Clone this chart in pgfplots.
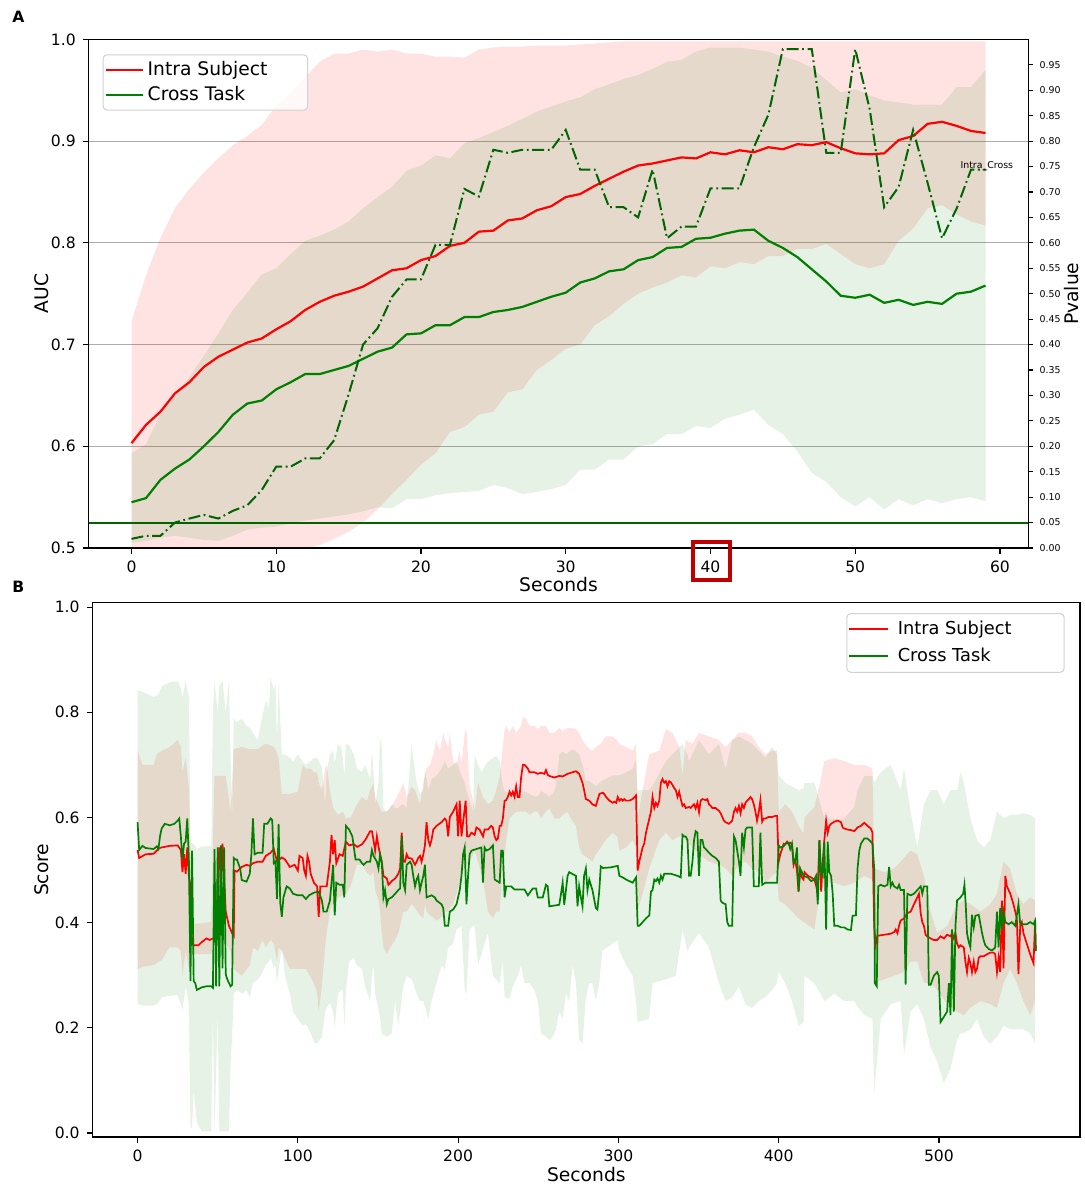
\documentclass[border=0pt]{standalone}
\usepackage{fontspec}
\setmainfont{DejaVu Sans}
\usepackage{pgfplots}
\usepackage{pgfplotstable}
\pgfplotsset{compat=1.18}
\usepgfplotslibrary{fillbetween}
\definecolor{mplred}{RGB}{255,0,0}
\definecolor{mplgreen}{RGB}{0,128,0}
\definecolor{dkgreen}{RGB}{0,100,0}
\definecolor{boxred}{RGB}{192,0,0}

\pgfplotstableread{
x rm rlo rhi gm glo ghi p
0 0.603 0.483 0.723 0.545 0.505 0.593 0.018
1 0.621 0.475 0.768 0.549 0.507 0.602 0.024
2 0.634 0.465 0.805 0.567 0.510 0.632 0.024
3 0.652 0.468 0.834 0.578 0.512 0.651 0.050
4 0.663 0.473 0.853 0.587 0.510 0.668 0.058
5 0.678 0.487 0.869 0.600 0.508 0.689 0.065
6 0.688 0.493 0.883 0.614 0.507 0.711 0.058
7 0.695 0.494 0.896 0.631 0.512 0.734 0.073
8 0.702 0.497 0.905 0.642 0.518 0.751 0.084
9 0.706 0.494 0.916 0.645 0.520 0.769 0.114
10 0.715 0.495 0.935 0.656 0.521 0.775 0.160
11 0.723 0.498 0.948 0.663 0.524 0.789 0.160
12 0.734 0.499 0.963 0.671 0.527 0.802 0.176
13 0.742 0.503 0.978 0.671 0.529 0.807 0.176
14 0.748 0.509 0.986 0.675 0.531 0.813 0.212
15 0.752 0.516 0.986 0.679 0.533 0.821 0.302
16 0.757 0.525 0.990 0.686 0.536 0.834 0.400
17 0.765 0.538 0.988 0.693 0.540 0.845 0.432
18 0.773 0.553 0.990 0.697 0.539 0.855 0.494
19 0.775 0.567 0.986 0.710 0.548 0.871 0.528
20 0.783 0.582 0.986 0.711 0.548 0.876 0.528
21 0.787 0.593 0.983 0.719 0.552 0.886 0.596
22 0.797 0.614 0.983 0.719 0.554 0.883 0.596
23 0.800 0.619 0.982 0.727 0.555 0.898 0.706
24 0.811 0.631 0.990 0.727 0.556 0.903 0.691
25 0.812 0.634 0.992 0.732 0.562 0.909 0.783
26 0.822 0.653 0.993 0.734 0.559 0.915 0.777
27 0.824 0.656 0.993 0.737 0.553 0.922 0.783
28 0.832 0.675 0.994 0.742 0.555 0.929 0.783
29 0.836 0.685 0.994 0.747 0.558 0.934 0.783
30 0.845 0.696 0.994 0.751 0.562 0.939 0.822
31 0.848 0.700 0.995 0.761 0.577 0.943 0.744
32 0.856 0.719 0.996 0.765 0.577 0.951 0.744
33 0.863 0.728 0.997 0.772 0.587 0.956 0.670
34 0.870 0.740 0.998 0.774 0.587 0.961 0.670
35 0.876 0.750 0.998 0.783 0.600 0.965 0.650
36 0.878 0.756 0.998 0.786 0.602 0.971 0.744
37 0.881 0.761 0.998 0.795 0.612 0.978 0.609
38 0.884 0.768 0.998 0.796 0.612 0.980 0.632
39 0.883 0.766 0.998 0.804 0.620 0.988 0.632
40 0.889 0.777 0.998 0.805 0.618 0.992 0.707
41 0.887 0.775 0.998 0.809 0.627 0.992 0.707
42 0.891 0.781 0.998 0.812 0.631 0.992 0.707
43 0.889 0.779 0.998 0.813 0.636 0.990 0.788
44 0.894 0.787 0.998 0.802 0.621 0.988 0.852
45 0.892 0.787 0.998 0.795 0.612 0.983 0.981
46 0.897 0.794 0.998 0.786 0.595 0.979 0.981
47 0.896 0.794 0.998 0.774 0.574 0.972 0.981
48 0.899 0.799 0.998 0.762 0.565 0.960 0.777
49 0.893 0.789 0.998 0.748 0.550 0.948 0.777
50 0.888 0.779 0.998 0.746 0.541 0.951 0.981
51 0.887 0.775 0.998 0.749 0.550 0.945 0.863
52 0.888 0.779 0.998 0.741 0.538 0.940 0.670
53 0.901 0.802 0.998 0.744 0.548 0.938 0.710
54 0.905 0.814 0.998 0.739 0.542 0.936 0.822
55 0.917 0.834 0.998 0.742 0.548 0.936 0.718
56 0.919 0.837 0.998 0.740 0.544 0.936 0.609
57 0.915 0.828 0.998 0.750 0.548 0.953 0.667
58 0.910 0.821 0.998 0.752 0.550 0.953 0.744
59 0.908 0.817 0.998 0.758 0.546 0.970 0.744
}\topdata

\pgfplotstableread{
x y
0 0.538
1 0.523
5 0.530
10 0.531
12 0.537
13 0.541
15 0.543
20 0.546
25 0.547
27 0.538
28 0.496
29 0.530
30 0.493
31 0.543
32 0.489
33 0.470
34 0.360
35 0.357
38 0.357
40 0.363
43 0.370
45 0.367
47 0.370
49 0.367
50 0.489
51 0.543
52 0.455
53 0.550
55 0.421
57 0.394
59 0.380
60 0.375
60.5 0.499
62 0.497
65 0.506
68 0.510
70 0.508
72 0.513
75 0.516
78 0.516
80 0.527
83 0.533
85 0.540
87 0.516
90 0.524
92 0.520
95 0.506
98 0.510
100 0.499
101 0.527
103 0.523
104 0.499
105 0.489
106 0.527
107 0.516
108 0.493
110 0.476
112 0.469
113 0.411
114 0.469
118 0.469
120 0.516
121 0.567
122 0.530
123 0.557
124 0.513
126 0.530
128 0.527
130 0.554
132 0.547
135 0.549
137 0.544
140.0 0.549
142.0 0.557
143.5 0.565
145.1 0.574
146.2 0.574
147.2 0.557
148.2 0.537
149.3 0.564
150.3 0.545
151.3 0.530
152.4 0.516
153.4 0.489
155.5 0.484
156.5 0.472
158.6 0.479
160.7 0.484
162.7 0.493
163.8 0.503
164.8 0.571
165.8 0.516
166.9 0.516
167.9 0.530
168.9 0.523
171.0 0.522
173.1 0.510
174.1 0.516
175.1 0.523
176.2 0.527
177.2 0.516
178.3 0.530
179.3 0.547
180.3 0.591
181.4 0.557
182.4 0.547
183.4 0.557
184.5 0.577
186.5 0.584
189.6 0.591
191.7 0.598
192.7 0.594
193.8 0.564
194.8 0.601
196.9 0.611
199.0 0.625
200.0 0.564
201.0 0.632
202.1 0.564
203.1 0.591
204.7 0.632
205.6 0.564
206.8 0.564
208.3 0.571
210.3 0.567
211.4 0.581
213.4 0.577
215.5 0.564
216.5 0.577
218.6 0.577
219.7 0.581
220.7 0.584
221.7 0.581
222.8 0.564
223.8 0.557
224.8 0.560
225.9 0.584
226.9 0.584
227.9 0.598
229.0 0.632
230.0 0.633
231.0 0.639
232.1 0.649
233.1 0.642
234.1 0.649
235.2 0.639
236.2 0.659
237.2 0.639
238.3 0.639
239.3 0.676
240.4 0.700
241.4 0.700
242.4 0.697
243.5 0.693
244.5 0.686
247.6 0.686
249.7 0.683
251.7 0.685
253.8 0.683
254.8 0.690
255.9 0.681
256.9 0.679
260.0 0.676
263.1 0.679
265.2 0.678
268.3 0.683
270.4 0.685
271.4 0.686
273.5 0.688
275.5 0.683
277.6 0.666
278.6 0.652
279.7 0.635
281.8 0.632
283.8 0.625
285.9 0.622
288.2 0.645
290.3 0.647
291.3 0.644
292.3 0.639
294.4 0.632
296.5 0.628
297.5 0.630
298.6 0.628
299.6 0.639
300.6 0.632
301.7 0.635
302.7 0.632
303.7 0.635
304.8 0.632
306.8 0.632
308.9 0.635
311.0 0.642
312.0 0.499
313.0 0.516
314.1 0.530
315.1 0.543
316.1 0.550
317.2 0.571
318.2 0.584
319.3 0.598
320.3 0.611
321.3 0.639
322.4 0.618
323.4 0.628
324.4 0.622
325.5 0.632
326.5 0.666
327.5 0.673
328.6 0.666
329.6 0.669
330.6 0.659
331.7 0.669
332.7 0.667
333.7 0.662
334.8 0.656
335.8 0.652
336.9 0.639
337.9 0.649
338.9 0.635
340.0 0.622
341.0 0.625
342.0 0.618
344.1 0.620
345.1 0.618
346.2 0.622
347.2 0.625
348.2 0.617
349.3 0.628
350.3 0.610
351.3 0.632
352.4 0.635
354.5 0.633
355.5 0.635
356.5 0.625
357.6 0.622
358.6 0.618
360.7 0.618
361.7 0.615
362.7 0.613
363.8 0.608
364.8 0.601
365.8 0.594
366.9 0.591
368.9 0.588
370.0 0.591
371.0 0.594
372.1 0.611
373.1 0.618
374.1 0.611
375.2 0.622
376.2 0.608
377.2 0.625
378.3 0.618
379.3 0.628
380.3 0.632
381.4 0.635
382.4 0.639
383.4 0.635
384.5 0.625
385.5 0.611
386.5 0.594
387.6 0.611
388.6 0.633
389.7 0.592
390.7 0.598
391.7 0.598
393.8 0.601
395.9 0.601
397.9 0.603
399.0 0.603
400.0 0.516
401.0 0.530
402.1 0.540
403.1 0.550
404.1 0.549
405.2 0.554
406.2 0.549
407.2 0.552
408.3 0.550
409.3 0.510
410.3 0.520
411.4 0.499
412.4 0.459
413.4 0.500
414.5 0.486
415.5 0.482
416.1 0.496
418.2 0.489
420.2 0.486
422.3 0.482
424.4 0.459
425.4 0.557
426.5 0.459
427.5 0.516
428.5 0.557
429.6 0.594
430.6 0.571
431.6 0.584
432.7 0.588
434.7 0.592
436.8 0.594
438.9 0.591
439.9 0.581
440.9 0.579
443.0 0.577
445.1 0.576
447.2 0.574
449.2 0.581
451.3 0.584
453.4 0.590
455.4 0.584
457.5 0.579
458.5 0.571
459.6 0.392
460.6 0.359
461.6 0.375
465.8 0.377
469.9 0.379
472.0 0.382
473.0 0.387
474.1 0.380
475.1 0.394
476.1 0.404
478.2 0.408
480.3 0.418
482.4 0.421
484.4 0.435
486.5 0.448
487.5 0.455
488.6 0.418
489.6 0.401
490.6 0.394
491.7 0.377
492.7 0.374
494.8 0.370
496.8 0.367
498.9 0.367
501.0 0.374
503.1 0.370
505.1 0.377
507.2 0.374
508.2 0.380
509.3 0.370
510.3 0.380
511.3 0.360
512.4 0.353
513.4 0.357
515.5 0.353
516.5 0.326
517.5 0.306
518.6 0.333
519.6 0.323
520.6 0.306
521.7 0.326
522.7 0.306
523.8 0.313
524.8 0.333
525.8 0.336
527.9 0.336
530.0 0.340
532.0 0.343
534.1 0.343
535.1 0.340
536.2 0.306
537.2 0.333
538.2 0.306
539.3 0.442
540.3 0.313
541.4 0.489
542.4 0.469
544.5 0.455
546.5 0.435
548.6 0.408
549.6 0.302
550.7 0.394
551.7 0.401
552.7 0.380
554.8 0.360
556.9 0.340
559.0 0.323
560.0 0.401
560.4 0.346
}\botred

\pgfplotstableread{
x y
0 0.591
1 0.538
3 0.546
5 0.542
10 0.540
12 0.545
13 0.540
14 0.564
15 0.579
17 0.588
20 0.585
23 0.588
25 0.594
26 0.598
27 0.564
28 0.520
29 0.550
30 0.554
31 0.598
32 0.523
33 0.289
34 0.537
35 0.289
36 0.285
37 0.272
40 0.277
43 0.279
46 0.279
47 0.276
48 0.540
49 0.279
50 0.543
51 0.279
52 0.547
53 0.313
54 0.543
55 0.302
56 0.292
58 0.279
59 0.282
60 0.523
61 0.520
62 0.520
64 0.503
65 0.481
67 0.479
68 0.478
70 0.493
71 0.530
72 0.598
73 0.530
75 0.533
78 0.533
79 0.588
81 0.588
83 0.598
84 0.595
85 0.513
86 0.516
87 0.445
88 0.588
89 0.438
90 0.411
91 0.448
93 0.469
95 0.465
97 0.455
100 0.452
103 0.452
105 0.445
107 0.452
110 0.457
113 0.459
115 0.442
116 0.421
118 0.421
120 0.442
121 0.476
122 0.510
123 0.414
124 0.476
126 0.472
128 0.472
129 0.448
130 0.584
132 0.577
134 0.564
136 0.520
138.5 0.520
140.0 0.513
141.0 0.510
143.1 0.516
145.1 0.516
146.2 0.538
147.2 0.527
149.3 0.516
150.3 0.503
151.3 0.530
152.4 0.513
153.4 0.448
154.4 0.462
155.5 0.435
156.5 0.445
158.6 0.448
160.7 0.455
162.7 0.462
163.8 0.465
164.8 0.564
165.8 0.476
166.9 0.462
167.9 0.510
170.0 0.516
171.0 0.510
172.0 0.489
173.1 0.469
174.1 0.482
175.1 0.489
176.2 0.462
177.2 0.476
178.3 0.489
179.3 0.510
180.3 0.448
183.4 0.452
185.5 0.448
186.5 0.442
189.6 0.435
190.7 0.428
191.7 0.394
193.8 0.394
194.8 0.421
196.9 0.425
199.0 0.435
201.0 0.462
202.1 0.489
203.1 0.530
204.1 0.543
205.2 0.435
206.2 0.489
207.2 0.530
208.3 0.537
211.4 0.540
214.5 0.543
215.5 0.476
216.5 0.543
217.6 0.537
219.7 0.540
221.7 0.547
222.8 0.482
225.9 0.476
226.9 0.537
227.9 0.537
229.0 0.448
230.0 0.469
233.1 0.469
235.2 0.463
239.3 0.463
241.4 0.463
243.5 0.452
246.6 0.465
248.6 0.465
249.7 0.448
252.8 0.448
254.8 0.472
255.9 0.469
256.9 0.431
263.1 0.434
264.2 0.455
265.2 0.476
266.2 0.434
268.3 0.489
269.3 0.496
273.5 0.489
274.5 0.431
275.5 0.469
276.6 0.448
277.6 0.431
278.6 0.489
279.7 0.503
280.7 0.462
281.8 0.482
283.8 0.462
285.9 0.428
286.9 0.425
288.0 0.458
289.0 0.507
290.3 0.504
295.0 0.505
299.6 0.508
300.6 0.489
302.7 0.486
304.8 0.482
306.8 0.479
308.9 0.476
311.0 0.486
312.0 0.394
313.0 0.394
315.1 0.401
317.2 0.408
319.3 0.414
320.3 0.459
321.3 0.462
322.4 0.482
323.4 0.479
324.4 0.484
325.5 0.476
326.5 0.489
327.5 0.482
328.6 0.493
332.7 0.493
336.9 0.489
338.9 0.486
340.0 0.567
341.0 0.564
342.0 0.564
343.1 0.557
344.1 0.489
345.1 0.489
346.2 0.516
347.2 0.557
348.2 0.574
349.3 0.571
350.3 0.489
351.3 0.557
352.4 0.557
353.4 0.543
354.5 0.540
356.5 0.533
358.6 0.527
360.7 0.523
362.7 0.516
363.8 0.442
364.8 0.438
366.9 0.435
367.9 0.401
368.9 0.394
371.0 0.394
372.1 0.564
373.1 0.557
375.2 0.516
376.2 0.489
377.2 0.571
378.3 0.543
379.3 0.577
380.3 0.581
383.4 0.581
384.5 0.469
385.5 0.469
387.6 0.469
388.6 0.571
389.7 0.472
391.7 0.476
399.0 0.476
400.0 0.547
401.0 0.543
403.1 0.545
404.1 0.550
406.2 0.552
407.2 0.540
408.3 0.550
409.3 0.513
410.3 0.516
411.4 0.543
412.4 0.459
413.4 0.503
414.5 0.496
415.5 0.489
418.2 0.486
420.2 0.479
422.3 0.482
423.3 0.489
424.4 0.435
425.4 0.557
426.5 0.496
427.5 0.489
428.5 0.554
429.6 0.387
430.6 0.554
431.6 0.496
432.7 0.489
433.7 0.455
434.7 0.394
436.8 0.394
438.9 0.391
440.9 0.391
443.0 0.387
445.1 0.386
446.1 0.413
448.2 0.414
449.2 0.503
450.3 0.537
451.3 0.550
453.4 0.560
455.4 0.560
457.5 0.554
458.5 0.550
459.6 0.503
460.0 0.285
461.2 0.279
462.1 0.469
463.7 0.472
465.8 0.469
467.9 0.472
468.9 0.506
469.9 0.469
471.0 0.476
472.0 0.469
474.1 0.465
475.1 0.472
476.1 0.462
478.2 0.462
479.2 0.282
480.3 0.455
482.4 0.452
484.4 0.455
486.5 0.462
488.6 0.469
489.6 0.455
490.6 0.469
492.7 0.469
493.7 0.282
494.8 0.282
496.8 0.299
498.9 0.306
499.9 0.299
501.0 0.211
503.1 0.221
505.1 0.231
506.2 0.285
507.2 0.224
508.2 0.387
509.3 0.231
510.3 0.394
511.3 0.442
513.4 0.448
515.1 0.455
515.9 0.472
516.7 0.435
517.5 0.380
518.6 0.363
519.6 0.353
520.6 0.415
521.7 0.391
522.7 0.413
524.8 0.415
526.9 0.380
527.9 0.367
528.9 0.357
531.0 0.350
533.1 0.347
535.1 0.353
536.2 0.421
537.2 0.353
538.2 0.428
539.3 0.387
540.3 0.421
541.4 0.401
543.4 0.397
545.5 0.401
547.6 0.394
549.6 0.435
550.7 0.397
552.7 0.397
554.8 0.397
556.9 0.401
559.0 0.397
560.0 0.404
560.4 0.346
}\botgreen

\pgfplotstableread{
x lo hi
0 0.312 0.728
3 0.316 0.700
10 0.319 0.700
12 0.323 0.720
15 0.329 0.727
20 0.353 0.734
25 0.353 0.747
27 0.346 0.734
28 0.299 0.686
30 0.346 0.713
32 0.312 0.656
33 0.326 0.557
34 0.340 0.397
46 0.340 0.401
47 0.353 0.557
48 0.367 0.679
55 0.360 0.679
58 0.346 0.611
60 0.312 0.730
65 0.299 0.734
70 0.319 0.730
72 0.353 0.730
75 0.346 0.730
78 0.367 0.737
80 0.353 0.740
83 0.367 0.737
85 0.360 0.734
87 0.326 0.723
88 0.353 0.713
90 0.346 0.645
95 0.312 0.645
100 0.312 0.649
103 0.312 0.700
105 0.312 0.693
108 0.296 0.693
110 0.285 0.686
112 0.268 0.686
113 0.231 0.666
115 0.279 0.652
117 0.353 0.693
118 0.380 0.700
120 0.421 0.652
122 0.435 0.618
125 0.448 0.605
128 0.452 0.611
130 0.455 0.598
133 0.470 0.600
136.9 0.510 0.625
140.0 0.510 0.639
143.1 0.496 0.632
145.1 0.489 0.652
147.2 0.496 0.666
148.2 0.462 0.639
150.3 0.442 0.625
151.3 0.421 0.618
152.4 0.380 0.611
153.4 0.353 0.611
155.5 0.340 0.611
157.6 0.353 0.618
160.7 0.367 0.632
162.7 0.380 0.645
163.8 0.394 0.652
165.8 0.421 0.666
167.9 0.421 0.639
171.0 0.435 0.659
173.1 0.428 0.652
176.2 0.414 0.625
178.3 0.408 0.666
179.3 0.435 0.679
180.3 0.421 0.693
182.4 0.414 0.700
184.5 0.410 0.720
186.5 0.404 0.747
188.6 0.408 0.727
190.7 0.414 0.761
191.7 0.421 0.747
193.8 0.421 0.734
194.8 0.428 0.761
196.9 0.435 0.707
199.0 0.455 0.700
201.0 0.476 0.727
202.1 0.489 0.700
204.1 0.503 0.761
205.2 0.510 0.768
207.2 0.516 0.659
209.3 0.530 0.632
210.3 0.537 0.611
212.4 0.516 0.666
215.5 0.482 0.639
218.6 0.421 0.625
221.7 0.408 0.632
223.8 0.421 0.652
225.9 0.421 0.679
227.9 0.503 0.734
229.0 0.525 0.768
230.0 0.557 0.774
232.1 0.598 0.761
234.1 0.605 0.774
236.2 0.611 0.761
239.3 0.611 0.774
240.4 0.611 0.791
242.4 0.611 0.788
244.5 0.605 0.774
247.6 0.611 0.774
249.7 0.611 0.768
251.7 0.598 0.774
254.8 0.611 0.774
256.9 0.618 0.761
260.0 0.598 0.761
263.1 0.598 0.770
265.2 0.605 0.765
268.3 0.611 0.770
270.4 0.598 0.770
273.5 0.584 0.768
275.5 0.543 0.761
277.6 0.530 0.747
280.7 0.523 0.734
283.8 0.516 0.727
285.9 0.530 0.734
289.0 0.543 0.740
292.1 0.557 0.754
296.2 0.571 0.754
299.3 0.564 0.747
300.6 0.537 0.740
304.8 0.543 0.734
308.9 0.557 0.727
311.0 0.543 0.740
312.0 0.421 0.598
315.1 0.455 0.652
319.2 0.503 0.720
325.5 0.557 0.727
329.6 0.571 0.768
333.7 0.557 0.761
337.9 0.564 0.734
340.0 0.564 0.679
342.0 0.557 0.747
346.2 0.543 0.740
350.3 0.530 0.761
356.5 0.516 0.754
362.7 0.510 0.747
366.9 0.503 0.734
371.0 0.489 0.747
375.1 0.510 0.761
379.3 0.516 0.761
383.4 0.503 0.754
387.6 0.496 0.734
391.7 0.476 0.720
395.8 0.489 0.727
398.9 0.496 0.727
400.0 0.442 0.611
404.1 0.435 0.625
408.3 0.421 0.611
412.4 0.408 0.584
415.5 0.401 0.570
416.1 0.400 0.600
422.3 0.387 0.620
425.4 0.450 0.660
428.5 0.476 0.707
434.7 0.476 0.713
440.9 0.469 0.707
447.1 0.476 0.700
453.4 0.489 0.700
458.5 0.482 0.693
459.6 0.285 0.503
465.8 0.292 0.496
472.0 0.299 0.503
478.2 0.306 0.523
482.3 0.326 0.537
486.5 0.326 0.530
490.6 0.285 0.489
494.8 0.285 0.421
498.9 0.272 0.380
505.1 0.245 0.394
511.3 0.231 0.435
515.5 0.224 0.442
519.6 0.238 0.435
525.8 0.251 0.421
532.0 0.245 0.435
536.2 0.238 0.455
540.3 0.285 0.516
544.4 0.312 0.503
548.6 0.285 0.455
552.7 0.251 0.435
556.9 0.224 0.448
560.0 0.251 0.442
}\botredband

\pgfplotstableread{
x lo hi
0 0.245 0.842
3 0.242 0.839
10 0.242 0.829
13 0.248 0.833
15 0.258 0.849
20 0.261 0.857
25 0.262 0.859
27 0.245 0.845
28 0.234 0.829
30 0.279 0.859
32 0.245 0.829
33 0.010 0.557
34 0.010 0.550
35 0.082 0.550
37 0.020 0.540
40 0.003 0.545
46 0.003 0.545
47 0.231 0.800
48 0.003 0.860
50 0.231 0.800
51 0.003 0.850
53 0.003 0.860
55 0.003 0.800
57 0.003 0.860
58 0.129 0.720
59 0.183 0.600
60 0.265 0.788
62 0.272 0.781
65 0.265 0.788
68 0.272 0.774
70 0.258 0.771
72 0.285 0.761
75 0.292 0.747
77 0.300 0.781
80 0.319 0.822
82 0.326 0.808
83 0.333 0.866
85 0.313 0.842
86 0.320 0.856
87 0.285 0.747
88 0.309 0.856
90 0.353 0.720
92 0.299 0.720
95 0.265 0.713
97 0.231 0.706
100 0.217 0.720
103 0.204 0.706
105 0.207 0.700
108 0.190 0.707
110 0.173 0.713
112 0.170 0.713
115 0.183 0.696
117 0.231 0.625
118 0.238 0.686
120 0.248 0.720
122 0.231 0.727
123 0.200 0.703
125 0.265 0.740
127 0.272 0.734
128 0.272 0.713
129 0.200 0.679
130 0.272 0.740
132 0.326 0.737
134.8 0.333 0.720
136.9 0.319 0.693
140.0 0.312 0.686
142.0 0.279 0.700
145.1 0.251 0.673
146.2 0.300 0.727
147.2 0.319 0.686
148.2 0.265 0.625
150.3 0.234 0.666
151.3 0.220 0.751
152.4 0.190 0.734
153.4 0.187 0.618
155.5 0.183 0.611
158.6 0.190 0.625
160.7 0.251 0.618
162.7 0.204 0.618
163.8 0.231 0.622
165.8 0.279 0.625
167.9 0.299 0.618
171.0 0.292 0.740
172.0 0.285 0.713
174.1 0.265 0.666
176.2 0.251 0.645
178.3 0.251 0.652
179.3 0.240 0.693
181.4 0.217 0.652
183.4 0.251 0.673
186.5 0.285 0.679
189.6 0.319 0.693
191.7 0.312 0.707
193.8 0.353 0.693
196.9 0.360 0.700
199.0 0.387 0.707
202.1 0.394 0.679
204.1 0.272 0.666
205.2 0.265 0.652
207.2 0.387 0.632
209.3 0.394 0.611
210.3 0.394 0.720
212.4 0.319 0.700
214.5 0.340 0.686
218.6 0.380 0.707
221.7 0.299 0.713
223.8 0.292 0.717
225.9 0.285 0.707
227.9 0.326 0.660
229.0 0.258 0.650
232.1 0.255 0.645
234.1 0.279 0.650
237.2 0.299 0.650
239.3 0.319 0.645
241.4 0.285 0.650
244.5 0.285 0.645
247.6 0.272 0.640
249.7 0.251 0.640
251.7 0.190 0.650
254.8 0.183 0.645
256.9 0.177 0.640
259.0 0.183 0.645
261.0 0.197 0.660
263.1 0.231 0.720
265.2 0.217 0.725
267.3 0.265 0.720
269.3 0.251 0.725
271.4 0.319 0.730
273.5 0.285 0.725
275.5 0.177 0.720
277.6 0.170 0.700
279.7 0.258 0.670
281.8 0.285 0.670
283.8 0.285 0.665
285.9 0.251 0.660
288.0 0.285 0.665
290.0 0.347 0.670
293.1 0.353 0.675
296.2 0.360 0.680
299.3 0.367 0.680
300.6 0.347 0.680
304.8 0.319 0.686
308.9 0.299 0.693
311.0 0.251 0.713
312.0 0.211 0.652
319.2 0.217 0.652
321.3 0.285 0.660
329.6 0.292 0.707
335.8 0.299 0.727
340.0 0.387 0.740
343.1 0.346 0.720
344.1 0.353 0.707
350.3 0.380 0.747
356.5 0.353 0.720
362.7 0.285 0.740
366.9 0.251 0.693
371.0 0.258 0.747
375.1 0.279 0.754
379.3 0.245 0.747
383.4 0.238 0.740
387.6 0.251 0.727
391.7 0.258 0.713
395.8 0.272 0.734
398.9 0.285 0.720
400.0 0.306 0.680
404.1 0.285 0.666
408.3 0.251 0.659
412.4 0.204 0.652
415.5 0.210 0.655
416.1 0.299 0.666
422.3 0.285 0.666
428.5 0.251 0.598
434.7 0.265 0.598
440.9 0.251 0.598
447.1 0.251 0.620
449.2 0.240 0.652
453.4 0.224 0.679
458.5 0.217 0.679
459.6 0.075 0.666
463.7 0.217 0.686
469.9 0.245 0.700
476.1 0.251 0.652
478.2 0.149 0.693
482.3 0.231 0.611
486.5 0.245 0.543
490.6 0.217 0.625
494.8 0.163 0.652
498.9 0.136 0.652
503.0 0.095 0.625
507.2 0.122 0.652
511.3 0.177 0.652
513.4 0.190 0.686
515.5 0.190 0.666
519.6 0.197 0.598
523.7 0.217 0.557
527.9 0.183 0.543
532.0 0.170 0.557
536.2 0.183 0.611
540.3 0.204 0.598
544.4 0.197 0.605
548.6 0.197 0.605
552.7 0.197 0.608
556.9 0.190 0.605
560.0 0.170 0.598
}\botgreenband

\pgfplotsset{
  mpl/.style={
    scale only axis, anchor=south west,
    tick align=outside, major tick length=3pt,
    every tick/.style={black, line width=0.6pt},
    axis line style={black, line width=0.65pt},
    tick label style={font=\fontsize{7.8}{9}\selectfont},
    label style={font=\fontsize{9.35}{11}\selectfont},
    /pgf/number format/assume math mode=true,
    legend cell align=left,
    legend style={draw=black!18, line width=0.5pt, rounded corners=2pt,
      fill=white, fill opacity=0.8, text opacity=1,
      font=\fontsize{9.35}{11}\selectfont, inner xsep=0.75pt, inner ysep=1.2pt},
  },
}

\begin{document}
\begin{tikzpicture}

% ---------------- panel A, AUC axis ----------------
\begin{axis}[mpl,
  at={(44.4pt,318.5pt)}, width=469.7pt, height=254.3pt,
  xmin=-2.95, xmax=61.95, ymin=0.5, ymax=1.0,
  tick pos=left,
  xtick={0,10,20,30,40,50,60},
  ytick={0.5,0.6,0.7,0.8,0.9,1.0},
  yticklabel={\pgfmathprintnumber[fixed,fixed zerofill,precision=1]{\tick}},
  ymajorgrids, grid style={line width=0.5pt, black!32},
  xlabel={Seconds}, ylabel={AUC},
  xlabel style={at={(axis description cs:0.5,-0.071)}, anchor=center},
  ylabel style={at={(axis description cs:-0.050,0.5)}, anchor=center},
  legend style={at={(0.0146,0.9707)}, anchor=north west},
  legend image code/.code={\draw[#1] (0pt,0pt) -- (18.5pt,0pt);},
]
\addplot[name path=ru, draw=none, forget plot] table[x=x,y=rhi]{\topdata};
\addplot[name path=rl, draw=none, forget plot] table[x=x,y=rlo]{\topdata};
\addplot[mplred, fill opacity=0.11, forget plot] fill between[of=ru and rl];
\addplot[name path=gu, draw=none, forget plot] table[x=x,y=ghi]{\topdata};
\addplot[name path=gl, draw=none, forget plot] table[x=x,y=glo]{\topdata};
\addplot[mplgreen, fill opacity=0.10, forget plot] fill between[of=gu and gl];
\addplot[mplred, line width=1.1pt] table[x=x,y=rm]{\topdata};
\addlegendentry{Intra Subject\rule{17.4pt}{0pt}}
\addplot[mplgreen, line width=1.1pt] table[x=x,y=gm]{\topdata};
\addlegendentry{Cross Task}
\end{axis}

% ---------------- panel A, p-value axis ----------------
\begin{axis}[mpl,
  at={(44.4pt,318.5pt)}, width=469.7pt, height=254.3pt,
  xmin=-2.95, xmax=61.95, ymin=0, ymax=1,
  axis x line=none, axis y line*=right,
  tick align=outside, major tick length=2.2pt,
  ytick={0,0.05,0.1,0.15,0.2,0.25,0.3,0.35,0.4,0.45,0.5,0.55,0.6,0.65,0.7,0.75,0.8,0.85,0.9,0.95},
  yticklabel={\pgfmathprintnumber[fixed,fixed zerofill,precision=2]{\tick}},
  y tick label style={font=\fontsize{4.7}{5.5}\selectfont},
  ylabel={Pvalue},
  ylabel style={at={(axis description cs:1.0456,0.5)}, anchor=center},
]
\addplot[dkgreen, line width=1pt, dash pattern=on 6pt off 1.8pt on 0.9pt off 1.8pt] table[x=x,y=p]{\topdata};
\addplot[dkgreen, line width=1pt] coordinates {(-2.95,0.05) (61.95,0.05)};
\node[anchor=base west, font=\fontsize{4.7}{5.5}\selectfont, inner sep=0pt] at (axis cs:57.25,0.746) {Intra\_Cross};
\end{axis}

% ---------------- panel B ----------------
\begin{axis}[mpl,
  at={(46.35pt,24pt)}, width=493.65pt, height=267.25pt,
  xmin=-28, xmax=588, ymin=-0.0076, ymax=1.0088,
  tick pos=left,
  xtick={0,100,200,300,400,500},
  ytick={0,0.2,0.4,0.6,0.8,1.0},
  yticklabel={\pgfmathprintnumber[fixed,fixed zerofill,precision=1]{\tick}},
  xlabel={Seconds}, ylabel={Score},
  xlabel style={at={(axis description cs:0.5,-0.071)}, anchor=center},
  ylabel style={at={(axis description cs:-0.0514,0.5)}, anchor=center},
  legend style={at={(0.9845,0.9803)}, anchor=north east,
    font=\fontsize{8.9}{10.5}\selectfont, row sep=1.25pt, inner ysep=1.8pt},
  legend image code/.code={\path[draw=none,fill=none] (0pt,-0.5pt) rectangle (22.2pt,0.5pt); \draw[#1, line width=1pt] (0pt,0pt) -- (19.5pt,0pt);},
]
\addplot[name path=bru, draw=none, forget plot] table[x=x,y=hi]{\botredband};
\addplot[name path=brl, draw=none, forget plot] table[x=x,y=lo]{\botredband};
\addplot[mplred, fill opacity=0.11, forget plot] fill between[of=bru and brl];
\addplot[name path=bgu, draw=none, forget plot] table[x=x,y=hi]{\botgreenband};
\addplot[name path=bgl, draw=none, forget plot] table[x=x,y=lo]{\botgreenband};
\addplot[mplgreen, fill opacity=0.10, forget plot] fill between[of=bgu and bgl];
\addplot[mplred, line width=0.85pt] table[x=x,y=y]{\botred};
\addlegendentry{Intra Subject\rule{23.5pt}{0pt}}
\addplot[mplgreen, line width=0.85pt] table[x=x,y=y]{\botgreen};
\addlegendentry{Cross Task}
\end{axis}

% panel letters and highlight box
\node[font=\bfseries\fontsize{7.8}{9}\selectfont] at (9.2pt,583.9pt) {A};
\node[font=\bfseries\fontsize{7.8}{9}\selectfont] at (9.2pt,299.25pt) {B};
\draw[boxred, line width=2.2pt] (346.6pt,302.6pt) rectangle (365.0pt,321.6pt);

\pgfresetboundingbox
\path[use as bounding box] (0,0) rectangle (542pt,592.5pt);
\end{tikzpicture}
\end{document}
